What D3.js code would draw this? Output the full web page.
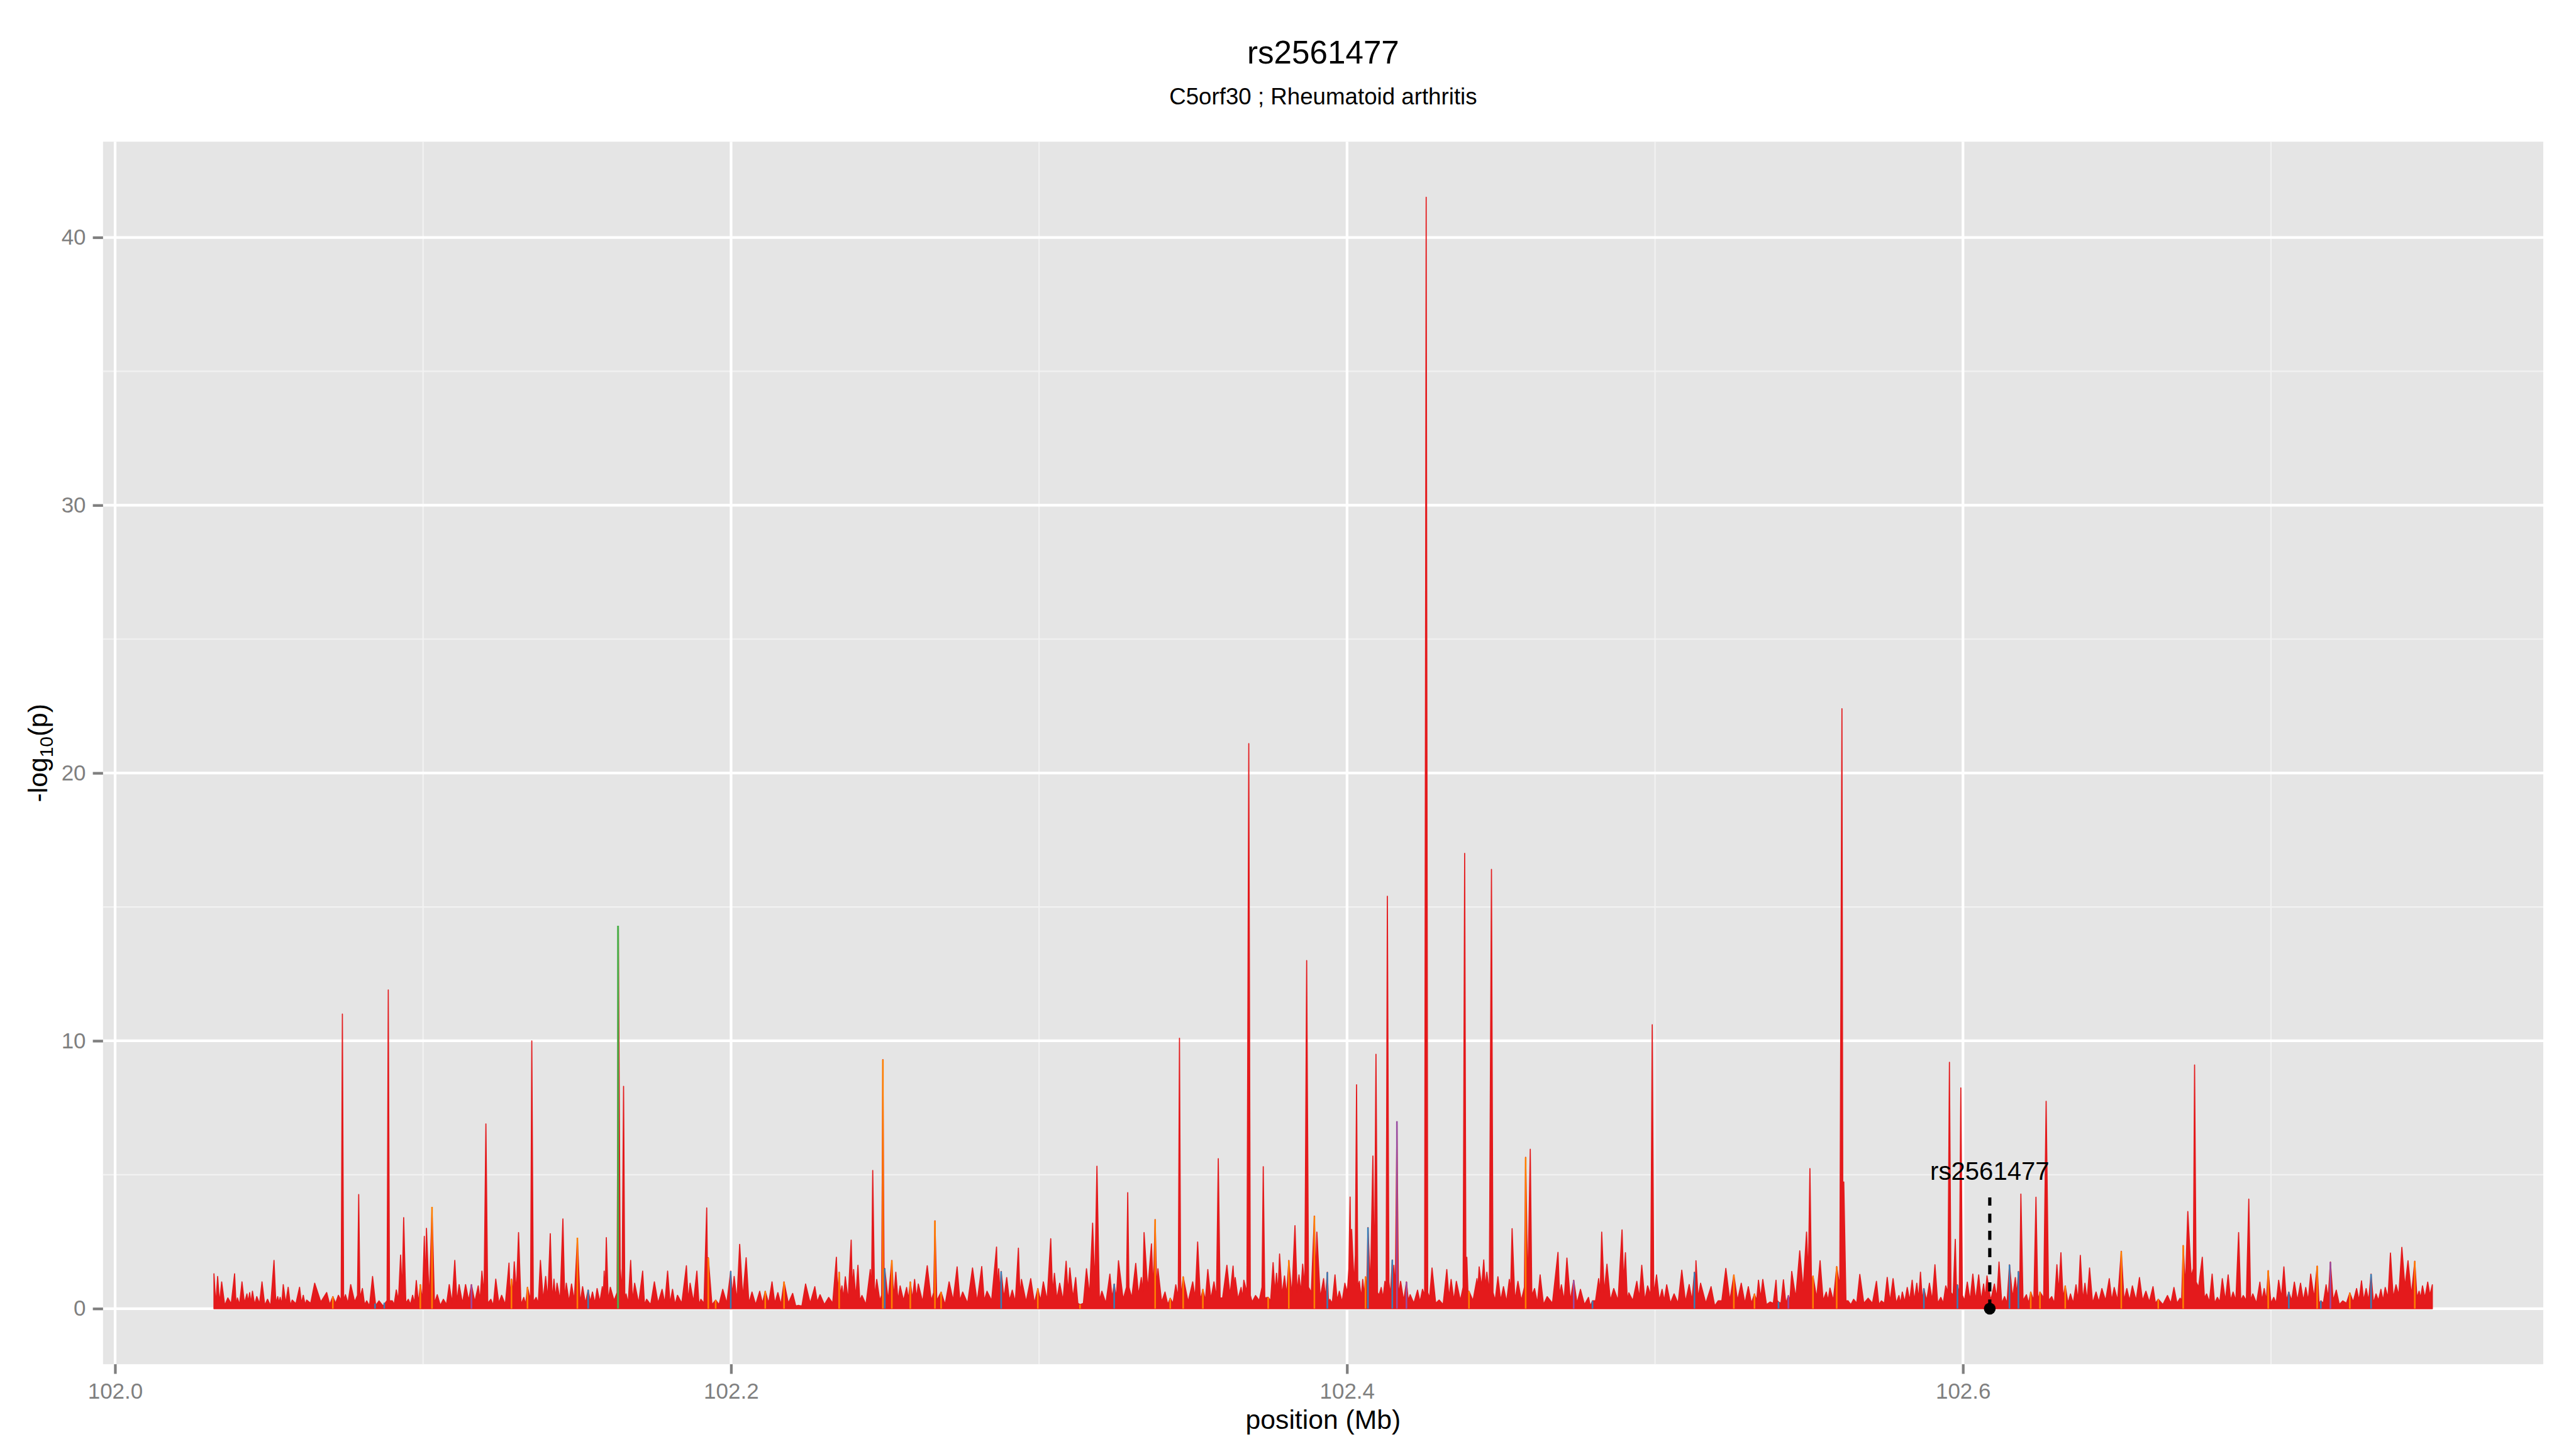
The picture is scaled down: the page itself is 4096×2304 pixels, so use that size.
<!DOCTYPE html>
<html>
<head>
<meta charset="utf-8">
<script src="https://cdn.jsdelivr.net/npm/d3@7"></script>
<style>
  body { margin: 0; background: #fff; overflow: hidden; }
  svg { display: block; }
</style>
</head>
<body>
<div id="chart"></div>
<script>
// -log10(p) per SNP, [position (Mb), value] in four stretches
const snps102_03 = [[102.0321,1.3],[102.0327,0.15],[102.0333,1.2],[102.0339,0.2],[102.0346,1.0],[102.0356,0.12],[102.0366,0.4],[102.0377,0.18],[102.0388,1.3],[102.0393,0.1],[102.0397,0.4],[102.0404,0.15],[102.0412,1.0],[102.0420,0.2],[102.0428,0.55],[102.0432,0.25],[102.0437,0.6],[102.0441,0.2],[102.0446,0.65],[102.0453,0.15],[102.0460,0.45],[102.0469,0.18],[102.0477,1.0],[102.0486,0.12],[102.0495,0.35],[102.0505,0.1],[102.0516,1.8],[102.0522,0.2],[102.0528,0.45],[102.0532,0.22],[102.0536,0.42],[102.0541,0.15],[102.0546,0.9],[102.0554,0.2],[102.0562,0.8],[102.0569,0.12],[102.0575,0.32],[102.0587,0.18],[102.0599,0.8],[102.0605,0.2],[102.0611,0.5],[102.0617,0.15],[102.0622,0.32],[102.0635,0.2],[102.0648,0.95],[102.0668,0.25],[102.0687,0.6],[102.0697,0.15],[102.0707,0.45],[102.0716,0.2],[102.0725,0.5],[102.0734,0.3],[102.0738,11.0],[102.0742,0.3],[102.0748,0.52],[102.0756,0.2],[102.0765,0.9],[102.0778,0.25],[102.0787,0.5],[102.0791,4.26],[102.0795,0.4],[102.0803,0.75],[102.0810,0.15],[102.0817,0.29],[102.0826,0.1],[102.0836,1.2],[102.0846,0.12],[102.0857,0.29],[102.0870,0.1],[102.0883,0.3],[102.0887,11.9],[102.0891,0.3],[102.0900,0.29],[102.0906,0.15],[102.0913,0.7],[102.0920,0.3],[102.0927,2.0],[102.0932,0.6],[102.0937,3.4],[102.0944,0.2],[102.0952,0.35],[102.0959,0.15],[102.0966,0.5],[102.0972,0.2],[102.0978,1.05],[102.0985,0.2],[102.0991,0.9],[102.0998,0.3],[102.1004,2.7],[102.1008,0.8],[102.1011,3.0],[102.1020,0.3],[102.1029,3.7],[102.1037,0.2],[102.1046,0.52],[102.1056,0.12],[102.1066,0.35],[102.1076,0.15],[102.1085,0.9],[102.1094,0.2],[102.1103,1.8],[102.1110,0.25],[102.1117,0.9],[102.1128,0.2],[102.1138,0.9],[102.1148,0.3],[102.1157,0.9],[102.1168,0.25],[102.1179,0.85],[102.1185,0.3],[102.1191,1.4],[102.1198,0.5],[102.1204,6.9],[102.1210,0.2],[102.1220,0.35],[102.1228,0.12],[102.1236,1.1],[102.1246,0.2],[102.1255,0.5],[102.1267,0.15],[102.1279,1.7],[102.1283,0.4],[102.1287,1.1],[102.1291,0.5],[102.1296,1.75],[102.1303,0.6],[102.1310,2.84],[102.1318,0.15],[102.1327,0.42],[102.1333,0.15],[102.1339,0.8],[102.1349,0.3],[102.1353,10.0],[102.1358,0.25],[102.1367,0.42],[102.1374,0.2],[102.1381,1.8],[102.1390,0.3],[102.1398,1.2],[102.1405,0.35],[102.1413,2.8],[102.1419,0.3],[102.1425,1.1],[102.1430,0.4],[102.1435,0.95],[102.1445,0.3],[102.1454,3.35],[102.1460,0.3],[102.1465,0.95],[102.1474,0.25],[102.1482,0.92],[102.1491,0.3],[102.1501,2.6],[102.1510,0.2],[102.1518,0.82],[102.1527,0.2],[102.1536,0.7],[102.1543,0.25],[102.1550,0.62],[102.1558,0.2],[102.1565,0.75],[102.1574,0.25],[102.1582,0.82],[102.1585,0.4],[102.1588,1.4],[102.1591,0.5],[102.1595,2.65],[102.1601,0.3],[102.1608,0.8],[102.1620,0.3],[102.1630,0.6],[102.1634,14.2],[102.1640,1.5],[102.1646,0.6],[102.1651,8.3],[102.1655,0.3],[102.1659,0.55],[102.1666,0.2],[102.1674,1.8],[102.1680,0.3],[102.1687,0.95],[102.1700,0.2],[102.1713,1.4],[102.1719,0.15],[102.1726,0.35],[102.1739,0.15],[102.1751,1.0],[102.1763,0.2],[102.1776,0.72],[102.1785,0.2],[102.1794,1.4],[102.1802,0.2],[102.1810,0.72],[102.1818,0.15],[102.1826,0.5],[102.1840,0.2],[102.1855,1.6],[102.1861,0.3],[102.1867,0.95],[102.1878,0.25],[102.1889,1.4],[102.1896,0.15],[102.1902,0.35],[102.1912,0.2],[102.1921,3.76],[102.1924,0.8],[102.1926,1.9],[102.1938,0.15],[102.1950,0.32],[102.1961,0.15],[102.1973,0.72],[102.1986,0.2],[102.1999,1.4],[102.2004,0.5],[102.2010,1.2],[102.2019,0.3],[102.2028,2.4],[102.2038,0.4],[102.2049,1.9],[102.2058,0.2],[102.2068,0.62],[102.2080,0.15],[102.2093,0.65],[102.2102,0.2],[102.2111,0.65],[102.2122,0.2],[102.2133,1.0]];

const snps102_21 = [[102.2142,0.2],[102.2152,0.6],[102.2162,0.15],[102.2172,1.0],[102.2186,0.2],[102.2200,0.57],[102.2210,0.1],[102.2219,0.12],[102.2230,0.1],[102.2242,0.92],[102.2257,0.2],[102.2272,0.82],[102.2280,0.25],[102.2289,0.52],[102.2303,0.15],[102.2317,0.42],[102.2330,0.2],[102.2342,1.92],[102.2346,0.6],[102.2351,1.36],[102.2355,0.5],[102.2360,0.85],[102.2365,0.4],[102.2371,1.19],[102.2380,0.3],[102.2390,2.56],[102.2394,0.7],[102.2398,1.46],[102.2405,0.4],[102.2412,1.62],[102.2418,0.3],[102.2425,0.49],[102.2438,0.15],[102.2452,1.46],[102.2456,0.6],[102.2460,5.16],[102.2466,0.4],[102.2473,1.09],[102.2483,0.3],[102.2489,0.5],[102.2493,9.3],[102.2497,0.6],[102.2499,1.5],[102.2510,0.3],[102.2522,1.8],[102.2528,0.4],[102.2535,1.36],[102.2542,0.3],[102.2549,0.85],[102.2560,0.3],[102.2570,0.79],[102.2576,0.35],[102.2582,1.0],[102.2589,0.35],[102.2596,1.09],[102.2602,0.4],[102.2608,0.92],[102.2622,0.25],[102.2637,1.6],[102.2650,0.3],[102.2658,0.6],[102.2662,3.28],[102.2668,0.3],[102.2682,0.62],[102.2695,0.15],[102.2708,1.0],[102.2721,0.3],[102.2734,1.56],[102.2743,0.3],[102.2752,0.62],[102.2768,0.2],[102.2784,1.52],[102.2799,0.25],[102.2814,1.57],[102.2822,0.3],[102.2831,0.65],[102.2846,0.3],[102.2862,2.3],[102.2866,0.6],[102.2869,1.49],[102.2873,0.6],[102.2877,1.39],[102.2886,0.4],[102.2895,1.16],[102.2904,0.3],[102.2913,0.69],[102.2923,0.25],[102.2933,2.26],[102.2938,0.5],[102.2943,1.09],[102.2958,0.25],[102.2973,1.12],[102.2985,0.2],[102.2996,0.75],[102.3005,0.3],[102.3014,1.0],[102.3026,0.3],[102.3038,2.61],[102.3044,0.6],[102.3050,1.32],[102.3058,0.35],[102.3067,0.95],[102.3078,0.3],[102.3088,1.77],[102.3094,0.6],[102.3100,1.52],[102.3110,0.4],[102.3119,1.16],[102.3126,0.2],[102.3133,0.15],[102.3144,0.2],[102.3154,1.49],[102.3164,0.5],[102.3174,3.19],[102.3181,0.8],[102.3188,5.32],[102.3196,0.3],[102.3204,0.65],[102.3217,0.2],[102.3230,1.29],[102.3237,0.4],[102.3244,0.92],[102.3251,0.4],[102.3258,1.79],[102.3273,0.35],[102.3284,0.8],[102.3288,4.33],[102.3292,0.8],[102.3301,0.4],[102.3314,1.69],[102.3323,0.5],[102.3332,1.16],[102.3337,0.6],[102.3341,2.84],[102.3353,0.7],[102.3365,2.42],[102.3371,0.7],[102.3377,3.33],[102.3382,0.7],[102.3386,1.49],[102.3398,0.25],[102.3409,0.62],[102.3418,0.15],[102.3426,0.39],[102.3435,0.2],[102.3444,0.89],[102.3452,0.4],[102.3456,10.1],[102.3460,0.4],[102.3468,1.19],[102.3484,0.25],[102.3499,1.0],[102.3507,0.4],[102.3515,2.49],[102.3524,0.3],[102.3532,0.72],[102.3540,0.3],[102.3548,1.46],[102.3558,0.35],[102.3568,1.0],[102.3576,0.4],[102.3582,5.6],[102.3588,0.4],[102.3596,0.4],[102.3610,1.62],[102.3620,0.5],[102.3630,1.59],[102.3634,0.8],[102.3637,1.16],[102.3646,0.35],[102.3656,0.79],[102.3661,0.4],[102.3665,1.06],[102.3675,0.6],[102.3681,21.1],[102.3686,0.5],[102.3692,0.25],[102.3703,0.49],[102.3715,0.3],[102.3724,0.8],[102.3728,5.3],[102.3733,0.4],[102.3744,0.42],[102.3752,0.3],[102.3760,1.72],[102.3766,0.6],[102.3771,1.32],[102.3776,0.6],[102.3781,2.04],[102.3789,0.5],[102.3797,1.22],[102.3804,0.5],[102.3811,1.8],[102.3821,0.5],[102.3831,3.1],[102.3838,0.6],[102.3844,1.26],[102.3850,0.6],[102.3856,1.66],[102.3863,0.8],[102.3869,13.0],[102.3875,0.8],[102.3884,0.6],[102.3894,3.46],[102.3898,1.0],[102.3902,2.86],[102.3913,0.4],[102.3924,1.12],[102.3930,0.4],[102.3936,1.36],[102.3940,0.2],[102.3944,0.35],[102.3952,0.2]];

const snps102_39 = [[102.3961,1.26],[102.3968,0.3],[102.3975,0.65],[102.3984,0.25],[102.3993,0.95],[102.4001,0.6],[102.4006,1.5],[102.4010,4.17],[102.4013,1.2],[102.4015,2.96],[102.4023,0.9],[102.4027,2.0],[102.4031,8.36],[102.4035,0.8],[102.4040,1.02],[102.4046,0.4],[102.4051,1.09],[102.4056,0.5],[102.4060,1.19],[102.4064,0.6],[102.4068,3.03],[102.4076,0.8],[102.4084,5.7],[102.4089,1.0],[102.4094,9.5],[102.4099,0.6],[102.4104,0.5],[102.4111,0.79],[102.4117,0.4],[102.4123,1.02],[102.4127,0.8],[102.4131,15.4],[102.4136,1.0],[102.4141,0.5],[102.4147,1.82],[102.4150,0.9],[102.4152,1.62],[102.4157,0.7],[102.4162,6.9],[102.4167,0.5],[102.4174,1.02],[102.4184,0.3],[102.4193,1.0],[102.4199,0.3],[102.4205,0.52],[102.4217,0.2],[102.4229,0.69],[102.4237,0.25],[102.4245,0.72],[102.4252,0.5],[102.4257,41.5],[102.4262,0.6],[102.4268,0.4],[102.4276,1.52],[102.4288,0.2],[102.4299,0.32],[102.4312,0.15],[102.4324,1.46],[102.4331,0.4],[102.4338,1.09],[102.4347,0.3],[102.4355,1.02],[102.4368,0.3],[102.4377,0.8],[102.4382,17.0],[102.4386,1.0],[102.4389,1.92],[102.4393,0.5],[102.4396,0.65],[102.4409,0.3],[102.4422,1.12],[102.4425,0.7],[102.4429,1.56],[102.4437,0.8],[102.4444,1.82],[102.4449,0.8],[102.4454,1.36],[102.4462,0.6],[102.4469,16.4],[102.4474,0.6],[102.4481,0.3],[102.4490,1.19],[102.4499,0.3],[102.4508,0.82],[102.4518,0.25],[102.4527,1.09],[102.4531,0.6],[102.4536,2.99],[102.4545,0.3],[102.4555,1.02],[102.4566,0.3],[102.4576,0.8],[102.4580,5.65],[102.4587,0.7],[102.4595,5.95],[102.4600,0.5],[102.4609,0.75],[102.4618,0.2],[102.4627,1.26],[102.4638,0.15],[102.4650,0.45],[102.4667,0.2],[102.4685,2.1],[102.4690,0.5],[102.4696,0.89],[102.4705,0.3],[102.4714,1.89],[102.4725,0.3],[102.4736,1.06],[102.4747,0.2],[102.4758,0.72],[102.4771,0.15],[102.4784,0.42],[102.4790,0.1],[102.4797,0.29],[102.4807,0.3],[102.4817,1.12],[102.4822,0.6],[102.4827,2.86],[102.4835,0.6],[102.4844,1.66],[102.4855,0.3],[102.4866,0.75],[102.4880,0.3],[102.4893,2.94],[102.4898,1.0],[102.4904,2.09],[102.4910,0.3],[102.4915,0.59],[102.4928,0.3],[102.4941,1.02],[102.4949,0.4],[102.4957,1.62],[102.4967,0.3],[102.4976,0.85],[102.4986,0.5],[102.4991,10.6],[102.4996,0.5],[102.5005,1.26],[102.5014,0.3],[102.5023,0.72],[102.5030,0.3],[102.5038,0.89],[102.5050,0.2],[102.5062,0.55],[102.5075,0.2],[102.5087,1.44],[102.5099,0.25],[102.5111,0.9],[102.5120,0.3],[102.5128,1.36],[102.5131,0.8],[102.5133,1.79],[102.5140,0.4],[102.5148,0.95],[102.5165,0.2],[102.5182,0.82],[102.5194,0.1],[102.5205,0.29],[102.5217,0.3],[102.5230,1.5],[102.5243,0.3],[102.5256,1.26],[102.5268,0.3],[102.5280,0.95],[102.5292,0.2],[102.5303,0.82],[102.5313,0.2],[102.5323,0.55],[102.5330,0.3],[102.5336,1.06],[102.5343,0.4],[102.5350,1.09],[102.5362,0.15],[102.5374,0.25],[102.5384,0.2],[102.5393,1.06],[102.5397,0.3],[102.5401,0.25],[102.5409,0.2],[102.5417,1.08],[102.5425,0.2],[102.5433,0.49],[102.5438,0.3],[102.5444,1.39],[102.5457,0.4],[102.5470,2.16],[102.5481,0.7],[102.5492,2.86],[102.5498,1.2],[102.5503,5.23],[102.5508,1.0],[102.5513,1.22],[102.5525,0.4],[102.5536,1.79],[102.5546,0.3],[102.5556,0.62],[102.5562,0.3],[102.5568,0.77],[102.5579,0.3],[102.5590,1.57],[102.5600,0.8],[102.5607,22.4],[102.5610,2.0],[102.5613,4.73],[102.5620,0.3],[102.5627,0.29],[102.5636,0.15],[102.5645,0.35],[102.5655,0.2],[102.5665,1.28],[102.5678,0.2],[102.5692,0.39],[102.5706,0.2],[102.5719,1.02],[102.5727,0.15],[102.5735,0.29],[102.5745,0.2],[102.5754,1.17],[102.5763,0.25]];

const snps102_58 = [[102.5773,1.12],[102.5783,0.2],[102.5792,0.49],[102.5797,0.2],[102.5803,0.62],[102.5811,0.25],[102.5819,0.79],[102.5827,0.3],[102.5835,1.06],[102.5842,0.3],[102.5850,0.95],[102.5856,0.35],[102.5862,1.36],[102.5868,0.3],[102.5873,0.75],[102.5882,0.3],[102.5891,0.95],[102.5900,0.3],[102.5909,1.64],[102.5918,0.2],[102.5928,0.42],[102.5936,0.2],[102.5944,0.85],[102.5951,0.6],[102.5956,9.2],[102.5961,0.6],[102.5968,0.5],[102.5975,2.59],[102.5979,0.6],[102.5982,0.89],[102.5988,0.5],[102.5993,8.24],[102.5998,0.5],[102.6005,0.3],[102.6014,0.99],[102.6023,0.3],[102.6032,1.29],[102.6041,0.3],[102.6051,1.26],[102.6059,0.3],[102.6067,0.92],[102.6072,0.4],[102.6078,1.22],[102.6090,0.3],[102.6102,0.92],[102.6110,0.4],[102.6117,1.74],[102.6126,0.2],[102.6135,0.45],[102.6143,0.2],[102.6151,1.64],[102.6161,0.4],[102.6170,1.16],[102.6175,0.5],[102.6180,1.39],[102.6184,0.6],[102.6188,4.28],[102.6195,0.3],[102.6206,0.52],[102.6213,0.2],[102.6220,0.62],[102.6230,0.3],[102.6237,4.16],[102.6243,0.3],[102.6250,0.62],[102.6262,0.4],[102.6270,7.74],[102.6278,0.3],[102.6288,0.45],[102.6297,0.2],[102.6305,1.64],[102.6311,0.6],[102.6318,2.09],[102.6325,0.4],[102.6332,0.85],[102.6341,0.2],[102.6349,0.55],[102.6358,0.2],[102.6367,0.89],[102.6374,0.3],[102.6381,1.99],[102.6389,0.3],[102.6396,0.95],[102.6403,0.3],[102.6411,1.52],[102.6421,0.2],[102.6432,0.62],[102.6441,0.25],[102.6451,0.75],[102.6463,0.3],[102.6475,1.12],[102.6483,0.3],[102.6491,0.79],[102.6502,0.3],[102.6514,2.14],[102.6523,0.3],[102.6532,0.75],[102.6541,0.3],[102.6550,0.85],[102.6562,0.3],[102.6573,1.16],[102.6583,0.3],[102.6594,0.65],[102.6605,0.25],[102.6617,0.82],[102.6625,0.2],[102.6634,0.35],[102.6649,0.15],[102.6664,0.49],[102.6675,0.2],[102.6685,0.79],[102.6695,0.2],[102.6705,0.39],[102.6710,0.3],[102.6715,2.36],[102.6722,0.8],[102.6730,3.63],[102.6741,1.2],[102.6748,1.5],[102.6752,9.1],[102.6757,1.0],[102.6765,0.8],[102.6777,1.92],[102.6784,0.4],[102.6791,0.55],[102.6800,0.25],[102.6809,1.29],[102.6817,0.2],[102.6826,0.42],[102.6834,0.25],[102.6842,1.12],[102.6852,0.3],[102.6861,1.26],[102.6869,0.3],[102.6877,0.62],[102.6886,0.3],[102.6895,2.84],[102.6902,0.3],[102.6910,0.49],[102.6920,0.3],[102.6928,4.09],[102.6934,0.3],[102.6941,0.55],[102.6953,0.2],[102.6964,0.99],[102.6971,0.3],[102.6978,0.75],[102.6985,0.3],[102.6991,1.42],[102.7000,0.2],[102.7009,0.42],[102.7017,0.2],[102.7025,1.06],[102.7034,0.4],[102.7042,1.56],[102.7050,0.3],[102.7058,0.62],[102.7067,0.3],[102.7076,0.99],[102.7086,0.3],[102.7096,0.95],[102.7105,0.3],[102.7113,0.79],[102.7121,0.3],[102.7129,1.29],[102.7140,0.4],[102.7150,1.59],[102.7156,0.2],[102.7162,0.29],[102.7170,0.2],[102.7179,0.89],[102.7186,0.4],[102.7193,1.74],[102.7202,0.3],[102.7212,0.69],[102.7222,0.15],[102.7233,0.29],[102.7245,0.2],[102.7256,0.59],[102.7267,0.25],[102.7278,0.75],[102.7286,0.3],[102.7294,1.04],[102.7301,0.3],[102.7309,0.75],[102.7317,0.3],[102.7325,1.29],[102.7333,0.2],[102.7341,0.55],[102.7349,0.3],[102.7357,0.72],[102.7364,0.3],[102.7371,0.79],[102.7380,0.4],[102.7388,2.08],[102.7397,0.4],[102.7406,0.89],[102.7415,0.5],[102.7425,2.29],[102.7435,0.8],[102.7445,1.79],[102.7456,0.5],[102.7467,1.77],[102.7474,0.4],[102.7481,0.65],[102.7486,0.4],[102.7492,0.85],[102.7500,0.4],[102.7509,0.99],[102.7516,0.5],[102.7524,0.89]];

// SNPs drawn in the other colours
const orangeSnps = [[102.0707,0.45],[102.0991,0.9],[102.1029,3.8],[102.1287,1.1],[102.1339,0.8],[102.1501,2.65],[102.1926,1.9],[102.1950,0.32],[102.2111,0.65],[102.2172,1.0],[102.2351,1.36],[102.2493,9.3],[102.2522,1.8],[102.2582,1.0],[102.2662,3.28],[102.2682,0.62],[102.2996,0.75],[102.3133,0.15],[102.3377,3.33],[102.3426,0.39],[102.3468,1.19],[102.3532,0.72],[102.3744,0.42],[102.3811,1.8],[102.3894,3.46],[102.4060,1.19],[102.4396,0.65],[102.4580,5.65],[102.5256,1.26],[102.5323,0.55],[102.5513,1.22],[102.5590,1.57],[102.6220,0.62],[102.6250,0.62],[102.6332,0.85],[102.6514,2.14],[102.6634,0.35],[102.6715,2.36],[102.6991,1.42],[102.7150,1.59],[102.7256,0.59],[102.7467,1.77]];
const blueSnps = [[102.0844,0.19],[102.0874,0.22],[102.1536,0.7],[102.1999,1.4],[102.2499,1.5],[102.2877,1.39],[102.3244,0.92],[102.3936,1.36],[102.4068,3.03],[102.4147,1.82],[102.4797,0.29],[102.5128,1.36],[102.5401,0.25],[102.5873,0.75],[102.5982,0.89],[102.6151,1.64],[102.6180,1.39],[102.7058,0.62],[102.7162,0.29],[102.7325,1.29]];
const purpleSnps = [[102.1157,0.9],[102.4162,7.0],[102.4193,1.0],[102.4736,1.06],[102.5433,0.49],[102.7193,1.74]];
const greenSnps = [[102.1633,14.3]];

// lead SNP annotation
const leadSnp = ['rs2561477'];
const leadPos = [102.6087];
const leadLogP = [0];
const leadLabelLogP = [5];
const leadLineTop = [4.15];

const xTicks = [102.0, 102.2, 102.4, 102.6];
const xMinor = [102.1, 102.3, 102.5, 102.7];
const yTicks = [0, 10, 20, 30, 40];
const yMinor = [5, 15, 25, 35];

const titleText = 'rs2561477';
const subtitleText = 'C5orf30 ; Rheumatoid arthritis';

const FONT = '"Liberation Sans", Arial, Helvetica, sans-serif';
const W = 4800, H = 2700;
const panel = { left: 192, right: 4739, top: 264, bottom: 2542 };

const redSnps = [].concat(snps102_03, snps102_21, snps102_39, snps102_58);

const svg = d3.select('#chart').append('svg')
    .attr('width', 4096)
    .attr('height', 2304)
    .attr('viewBox', '0 0 ' + W + ' ' + H)
    .style('font-family', FONT);

svg.append('rect').attr('width', W).attr('height', H).attr('fill', '#ffffff');

// ggplot style 5% expansion
const xExt = d3.extent(redSnps, d => d[0]);
const xPad = (xExt[1] - xExt[0]) * 0.05;
const yMax = d3.max(redSnps, d => d[1]);
const yPad = yMax * 0.05;

const x = d3.scaleLinear().domain([xExt[0] - xPad, xExt[1] + xPad]).range([panel.left, panel.right]);
const y = d3.scaleLinear().domain([-yPad, yMax + yPad]).range([panel.bottom, panel.top]);

// panel + grid
svg.append('rect')
    .attr('x', panel.left).attr('y', panel.top)
    .attr('width', panel.right - panel.left).attr('height', panel.bottom - panel.top)
    .attr('fill', '#e5e5e5');

const grid = svg.append('g');
grid.selectAll('.ymin').data(yMinor).enter().append('line')
    .attr('x1', panel.left).attr('x2', panel.right)
    .attr('y1', d => y(d)).attr('y2', d => y(d))
    .attr('stroke', '#f2f2f2').attr('stroke-width', 2.5);
grid.selectAll('.xmin').data(xMinor).enter().append('line')
    .attr('y1', panel.top).attr('y2', panel.bottom)
    .attr('x1', d => x(d)).attr('x2', d => x(d))
    .attr('stroke', '#f2f2f2').attr('stroke-width', 2.5);
grid.selectAll('.ymaj').data(yTicks).enter().append('line')
    .attr('x1', panel.left).attr('x2', panel.right)
    .attr('y1', d => y(d)).attr('y2', d => y(d))
    .attr('stroke', '#ffffff').attr('stroke-width', 5);
grid.selectAll('.xmaj').data(xTicks).enter().append('line')
    .attr('y1', panel.top).attr('y2', panel.bottom)
    .attr('x1', d => x(d)).attr('x2', d => x(d))
    .attr('stroke', '#ffffff').attr('stroke-width', 5);

// red filled trace
const area = d3.area()
    .x(d => x(d[0]))
    .y0(y(0))
    .y1(d => y(d[1]));

svg.append('path')
    .datum(redSnps)
    .attr('d', area)
    .attr('fill', '#e41a1c')
    .attr('stroke', '#e41a1c')
    .attr('stroke-width', 2)
    .attr('stroke-linejoin', 'round');

// coloured SNP spikes on top
function spikes(data, colour, width) {
  svg.append('g').selectAll('line').data(data).enter().append('line')
      .attr('x1', d => x(d[0])).attr('x2', d => x(d[0]))
      .attr('y1', y(0)).attr('y2', d => y(d[1]))
      .attr('stroke', colour)
      .attr('stroke-width', width);
}
spikes(orangeSnps, '#ff7f00', 3);
spikes(blueSnps, '#377eb8', 3);
spikes(purpleSnps, '#984ea3', 3);
spikes(greenSnps, '#4daf4a', 3.5);

// axes
const xAxis = svg.append('g')
    .attr('transform', 'translate(0,' + panel.bottom + ')')
    .call(d3.axisBottom(x).tickValues(xTicks).tickSize(18).tickPadding(17).tickFormat(d3.format('.1f')));
const yAxis = svg.append('g')
    .attr('transform', 'translate(' + panel.left + ',0)')
    .call(d3.axisLeft(y).tickValues(yTicks).tickSize(19).tickPadding(13).tickFormat(d3.format('d')));

[xAxis, yAxis].forEach(ax => {
  ax.select('.domain').remove();
  ax.selectAll('.tick line').attr('stroke', '#7f7f7f').attr('stroke-width', 5);
  ax.selectAll('.tick text')
      .attr('fill', '#7f7f7f')
      .style('font-size', '41px')
      .style('font-family', FONT);
});

// lead SNP marker
const lead = svg.append('g');
lead.selectAll('line').data(leadPos).enter().append('line')
    .attr('x1', d => x(d)).attr('x2', d => x(d))
    .attr('y1', (d, i) => y(leadLogP[i]))
    .attr('y2', (d, i) => y(leadLineTop[i]))
    .attr('stroke', '#000')
    .attr('stroke-width', 6)
    .attr('stroke-dasharray', '17,15');
lead.selectAll('circle').data(leadPos).enter().append('circle')
    .attr('cx', d => x(d))
    .attr('cy', (d, i) => y(leadLogP[i]))
    .attr('r', 11)
    .attr('fill', '#000');
lead.selectAll('text').data(leadPos).enter().append('text')
    .attr('x', d => x(d))
    .attr('y', (d, i) => y(leadLabelLogP[i]))
    .attr('dy', '0.2em')
    .attr('text-anchor', 'middle')
    .style('font-size', '47px')
    .attr('fill', '#000')
    .text((d, i) => leadSnp[i]);

// titles
const cx = (panel.left + panel.right) / 2;
svg.append('text')
    .attr('x', cx).attr('y', 118)
    .attr('text-anchor', 'middle')
    .style('font-size', '60px')
    .text(titleText);
svg.append('text')
    .attr('x', cx).attr('y', 194)
    .attr('text-anchor', 'middle')
    .style('font-size', '43px')
    .text(subtitleText);

svg.append('text')
    .attr('x', cx).attr('y', 2662)
    .attr('text-anchor', 'middle')
    .style('font-size', '50px')
    .text('position (Mb)');

const yTitle = svg.append('text')
    .attr('transform', 'translate(88,' + ((panel.top + panel.bottom) / 2) + ') rotate(-90)')
    .attr('text-anchor', 'middle')
    .style('font-size', '50px');
yTitle.append('tspan').text('-log');
yTitle.append('tspan').attr('dy', 10).style('font-size', '35px').text('10');
yTitle.append('tspan').attr('dy', -10).text('(p)');
</script>
</body>
</html>
